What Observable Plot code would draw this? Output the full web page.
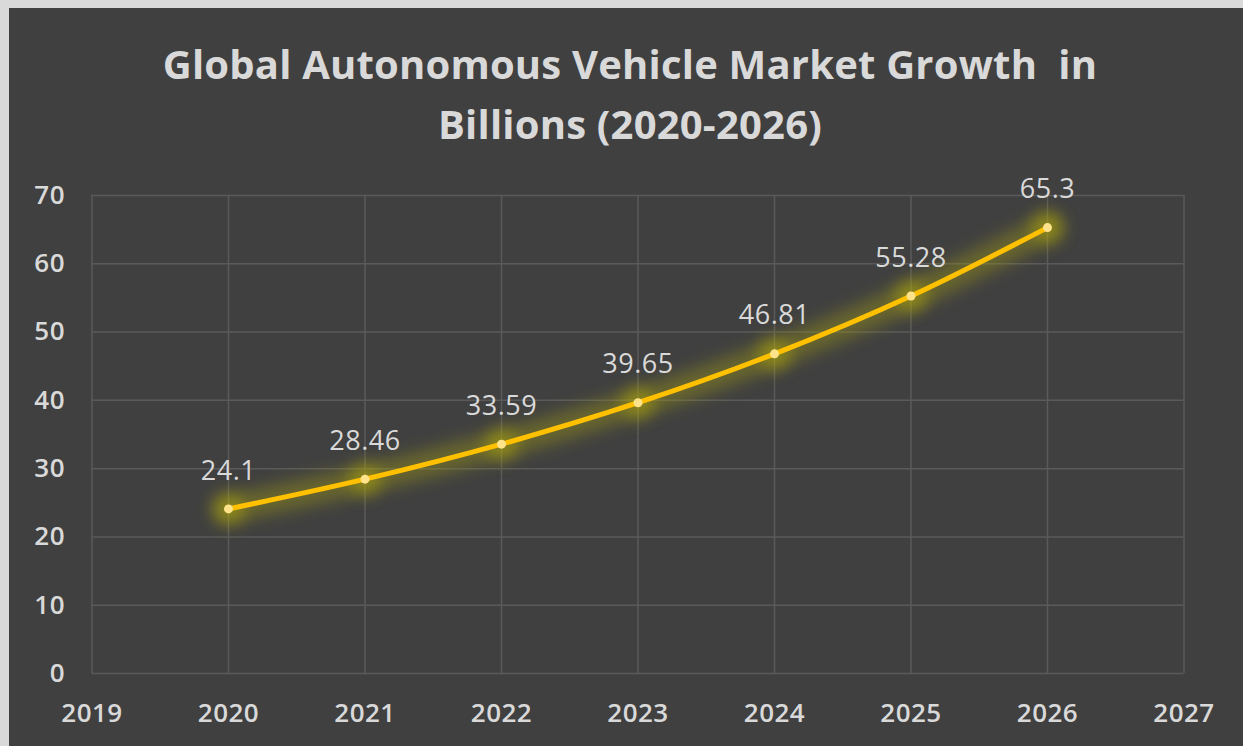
<!DOCTYPE html>
<html>
<head>
<meta charset="utf-8">
<script src="https://cdn.jsdelivr.net/npm/d3@7"></script>
<script src="https://cdn.jsdelivr.net/npm/@observablehq/plot@0.6"></script>
<style>
  html, body { margin: 0; padding: 0; background: #404040; }
  #wrap {
    position: relative; width: 1243px; height: 746px; box-sizing: border-box;
    background: #404040; border-top: 8px solid #d9d9d9; border-left: 9px solid #d9d9d9;
    overflow: hidden; font-family: "Open Sans", sans-serif;
  }
  #title {
    height: 152px; box-sizing: border-box; padding-top: 26px; padding-left: 8px;
    text-align: center; color: #d9d9d9; font-weight: 700; font-size: 40px; line-height: 60px;
    white-space: pre; letter-spacing: 0.2px;
  }
  #chart svg { display: block; }
</style>
</head>
<body>
<div id="wrap">
  <div id="title">Global Autonomous Vehicle Market Growth  in
Billions (2020-2026)</div>
  <div id="chart"></div>
</div>
<script>
const years = [2020, 2021, 2022, 2023, 2024, 2025, 2026];
const values = [24.1, 28.46, 33.59, 39.65, 46.81, 55.28, 65.3];
const xTicks = [2019, 2020, 2021, 2022, 2023, 2024, 2025, 2026, 2027];
const yTicks = [0, 10, 20, 30, 40, 50, 60, 70];

const data = years.map((y, i) => ({year: y, value: values[i]}));

const chart = Plot.plot({
  width: 1234,
  height: 586,
  marginLeft: 82.5,
  marginRight: 59.5,
  marginTop: 35,
  marginBottom: 73,
  style: {background: "#404040", color: "#d9d9d9", fontFamily: "Open Sans, sans-serif", overflow: "visible"},
  x: {domain: [2019, 2027], ticks: xTicks, tickFormat: d => String(d)},
  y: {domain: [0, 70], ticks: yTicks},
  marks: [
    Plot.gridX(xTicks, {stroke: "#5a5a5a", strokeOpacity: 1, strokeWidth: 1.5}),
    Plot.gridY(yTicks, {stroke: "#5a5a5a", strokeOpacity: 1, strokeWidth: 1.5}),
    Plot.axisX(xTicks, {tickSize: 0, tickPadding: 30, fontSize: 26, fontWeight: 600, fill: "#d9d9d9", tickFormat: d => String(d), label: null}),
    Plot.axisY(yTicks, {tickSize: 0, tickPadding: 27, fontSize: 26, fontWeight: 600, fill: "#d9d9d9", label: null}),
    Plot.line(data, {x: "year", y: "value", curve: "catmull-rom", stroke: "#a09c14", strokeWidth: 28, strokeOpacity: 0.42, imageFilter: "blur(9px)", className: "glow"}),
    Plot.dot(data, {x: "year", y: "value", r: 16, fill: "#c0b800", fillOpacity: 0.42, imageFilter: "blur(6px)", className: "glow"}),
    Plot.line(data, {x: "year", y: "value", curve: "catmull-rom", stroke: "#ffc000", strokeWidth: 5}),
    Plot.dot(data, {x: "year", y: "value", r: 4.5, fill: "#ffe38a", stroke: "none"}),
    Plot.text(data, {x: "year", y: "value", text: d => String(d.value), dy: -38, fontSize: 27, fill: "#d9d9d9", fontWeight: 500})
  ]
});
document.getElementById("chart").appendChild(chart);
d3.select(chart).selectAll(".glow").style("filter", "blur(8px)");
d3.select(chart).selectAll("text").style("letter-spacing", "0.5px");
</script>
</body>
</html>
